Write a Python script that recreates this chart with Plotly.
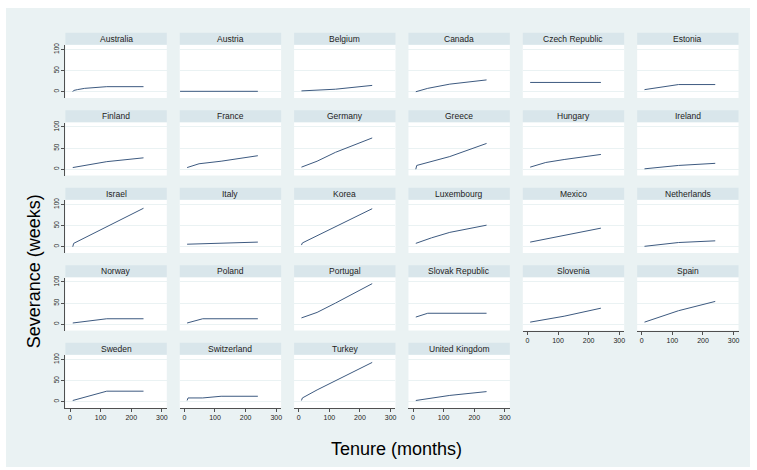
import plotly.graph_objects as go

W, H = 757, 470

countries = ["Australia", "Austria", "Belgium", "Canada", "Czech Republic", "Estonia",
             "Finland", "France", "Germany", "Greece", "Hungary", "Ireland",
             "Israel", "Italy", "Korea", "Luxembourg", "Mexico", "Netherlands",
             "Norway", "Poland", "Portugal", "Slovak Republic", "Slovenia", "Spain",
             "Sweden", "Switzerland", "Turkey", "United Kingdom"]

# tenure (months) and severance (weeks)
australia_t = [9, 12, 24, 48, 120, 240];      australia_s = [0, 3, 5, 8, 12, 12]
austria_t = [-14, 240];                       austria_s = [1, 1]
belgium_t = [9, 60, 120, 240];                belgium_s = [2, 4, 6, 15]
canada_t = [9, 48, 120, 240];                 canada_s = [0, 8, 18, 28]
czech_t = [9, 240];                           czech_s = [22, 22]
estonia_t = [9, 120, 240];                    estonia_s = [5, 17, 17]
finland_t = [9, 60, 120, 240];                finland_s = [4, 10, 18, 27]
france_t = [9, 48, 120, 240];                 france_s = [4, 13, 19, 32]
germany_t = [9, 60, 120, 240];                germany_s = [5, 19, 40, 74]
greece_t = [9, 12, 120, 240];                 greece_s = [0, 9, 30, 61]
hungary_t = [9, 60, 120, 240];                hungary_s = [5, 16, 23, 35]
ireland_t = [9, 48, 120, 240];                ireland_s = [1, 4, 9, 14]
israel_t = [9, 12, 240];                      israel_s = [0, 8, 91]
italy_t = [9, 240];                           italy_s = [6, 11]
korea_t = [9, 12, 240];                       korea_s = [4, 9, 90]
luxembourg_t = [9, 60, 120, 240];             luxembourg_s = [8, 21, 34, 51]
mexico_t = [9, 240];                          mexico_s = [11, 44]
netherlands_t = [9, 120, 240];                netherlands_s = [1, 10, 14]
norway_t = [9, 120, 240];                     norway_s = [3, 13, 13]
poland_t = [9, 60, 240];                      poland_s = [3, 13, 13]
portugal_t = [9, 60, 120, 240];               portugal_s = [15, 28, 50, 96]
slovak_t = [9, 48, 240];                      slovak_s = [17, 26, 26]
slovenia_t = [9, 120, 240];                   slovenia_s = [5, 19, 38]
spain_t = [9, 120, 240];                      spain_s = [5, 32, 54]
sweden_t = [9, 120, 240];                     sweden_s = [3, 25, 25]
switzerland_t = [9, 12, 60, 120, 240];        switzerland_s = [3, 9, 9, 13, 13]
turkey_t = [9, 12, 60, 240];                  turkey_s = [3, 9, 28, 93]
uk_t = [9, 120, 240];                         uk_s = [3, 15, 24]

tenures = [australia_t, austria_t, belgium_t, canada_t, czech_t, estonia_t,
           finland_t, france_t, germany_t, greece_t, hungary_t, ireland_t,
           israel_t, italy_t, korea_t, luxembourg_t, mexico_t, netherlands_t,
           norway_t, poland_t, portugal_t, slovak_t, slovenia_t, spain_t,
           sweden_t, switzerland_t, turkey_t, uk_t]
severances = [australia_s, austria_s, belgium_s, canada_s, czech_s, estonia_s,
              finland_s, france_s, germany_s, greece_s, hungary_s, ireland_s,
              israel_s, italy_s, korea_s, luxembourg_s, mexico_s, netherlands_s,
              norway_s, poland_s, portugal_s, slovak_s, slovenia_s, spain_s,
              sweden_s, switzerland_s, turkey_s, uk_s]

x_ticks = [0, 100, 200, 300]
y_ticks = [0, 50, 100]

BG = "#EAF2F3"
STRIP = "#D9E6EB"
LINE = "#3D5A80"
AX = "#505050"
FONT = "Liberation Sans, Arial, sans-serif"

col_left = [65.5, 180, 294.5, 409, 523.5, 638]
panel_w = 101.5
row_top = [30, 108, 186, 264, 342]
strip_h = 12
plot_off_top = 12.5
plot_off_bot = 65.7

def px(x):
    return x / W

def py(y):
    return 1 - y / H

fig = go.Figure()
shapes = [dict(type="rect", xref="paper", yref="paper", x0=px(6), x1=px(751),
               y0=py(467), y1=py(5), fillcolor=BG, line=dict(width=0), layer="below")]
annotations = []
layout_axes = {}

n = len(countries)
for i, (name, t, s) in enumerate(zip(countries, tenures, severances)):
    r, c = divmod(i, 6)
    k = i + 1
    xl = col_left[c]
    xr = xl + panel_w
    top = row_top[r]
    ptop = top + plot_off_top
    pbot = top + plot_off_bot
    is_bottom = (i + 6) >= n
    is_left = c == 0

    shapes.append(dict(type="rect", xref="paper", yref="paper", x0=px(xl), x1=px(xr),
                       y0=py(pbot), y1=py(top + strip_h), fillcolor="white",
                       line=dict(width=0), layer="below"))
    shapes.append(dict(type="rect", xref="paper", yref="paper", x0=px(xl), x1=px(xr),
                       y0=py(top + strip_h), y1=py(top), fillcolor=STRIP,
                       line=dict(width=0), layer="below"))
    annotations.append(dict(text=name, xref="paper", yref="paper",
                            x=px((xl + xr) / 2), y=py(top + strip_h / 2),
                            xanchor="center", yanchor="middle", showarrow=False,
                            font=dict(family=FONT, size=8.5, color="#222222")))

    xa = "xaxis" if k == 1 else f"xaxis{k}"
    ya = "yaxis" if k == 1 else f"yaxis{k}"
    layout_axes[xa] = dict(domain=[px(xl), px(xr)], range=[-15, 316], anchor=f"y{k}" if k > 1 else "y",
                           showgrid=False, zeroline=False, tickvals=x_ticks,
                           showline=is_bottom, linecolor=AX, linewidth=1,
                           ticks="outside" if is_bottom else "", ticklen=3, tickcolor=AX,
                           showticklabels=is_bottom,
                           tickfont=dict(family=FONT, size=7, color="#222222"))
    layout_axes[ya] = dict(domain=[py(pbot), py(ptop)], range=[-15, 110], anchor=f"x{k}" if k > 1 else "x",
                           showgrid=True, gridcolor=BG, gridwidth=1, zeroline=False,
                           tickvals=y_ticks, showline=is_left, linecolor=AX, linewidth=1,
                           ticks="outside" if is_left else "", ticklen=3, tickcolor=AX,
                           showticklabels=is_left, tickangle=-90,
                           tickfont=dict(family=FONT, size=6.5, color="#222222"))

    fig.add_trace(go.Scatter(x=t, y=s, mode="lines", line=dict(color=LINE, width=1),
                             xaxis=f"x{k}" if k > 1 else "x", yaxis=f"y{k}" if k > 1 else "y",
                             showlegend=False, hoverinfo="skip"))

annotations.append(dict(text="Severance (weeks)", xref="paper", yref="paper",
                        x=px(34), y=py(270), textangle=-90, showarrow=False,
                        xanchor="center", yanchor="middle",
                        font=dict(family=FONT, size=18, color="#000000")))
annotations.append(dict(text="Tenure (months)", xref="paper", yref="paper",
                        x=px(397), y=py(449), showarrow=False,
                        xanchor="center", yanchor="middle",
                        font=dict(family=FONT, size=18, color="#000000")))

fig.update_layout(width=W, height=H, autosize=False,
                  margin=dict(l=0, r=0, t=0, b=0),
                  paper_bgcolor="white", plot_bgcolor="rgba(0,0,0,0)",
                  shapes=shapes, annotations=annotations, **layout_axes)

fig.write_html("out.html", config={"displayModeBar": False},
               post_script="document.body.style.margin='0';document.body.style.overflow='hidden';")
